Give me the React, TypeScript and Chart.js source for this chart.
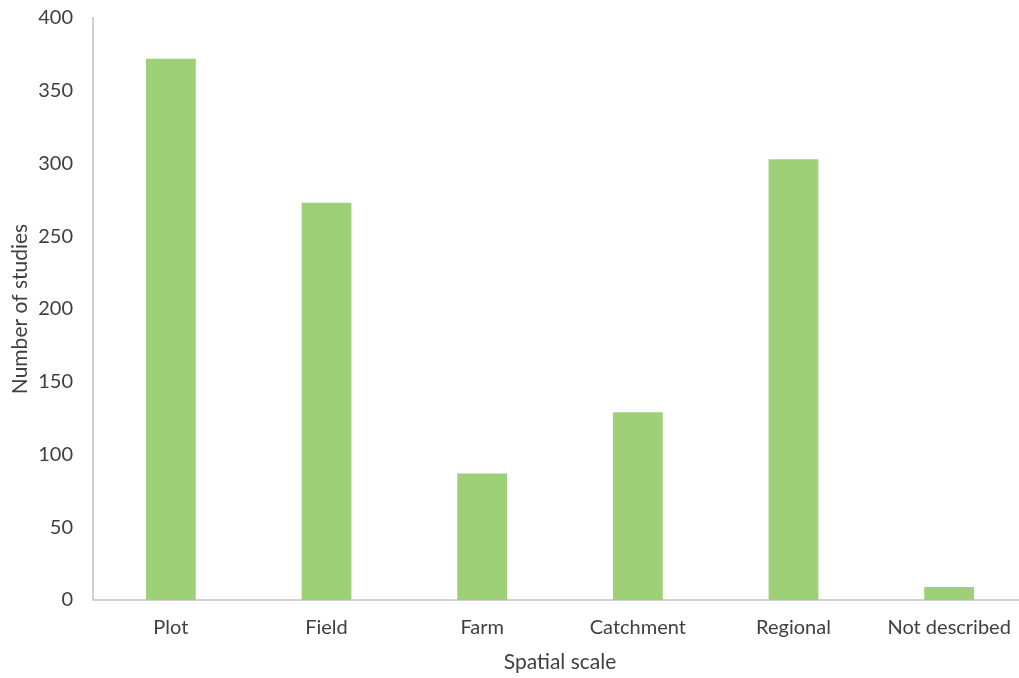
import React, { useEffect, useRef } from "react";
import { Chart, registerables } from "chart.js";

Chart.register(...registerables);

const categories = ["Plot", "Field", "Farm", "Catchment", "Regional", "Not described"];
const studies = [372, 273, 87, 129, 303, 9];
const yTicks = [0, 50, 100, 150, 200, 250, 300, 350, 400];

export default function App() {
  const ref = useRef<HTMLCanvasElement | null>(null);
  useEffect(() => {
    if (!ref.current) return;
    const font = "Lato, 'Open Sans', sans-serif";
    const chart = new Chart(ref.current, {
      type: "bar",
      data: {
        labels: categories,
        datasets: [
          {
            label: "Number of studies",
            data: studies,
            backgroundColor: "#9dd077",
            borderWidth: 0,
            barPercentage: 0.32,
            categoryPercentage: 1,
          },
        ],
      },
      options: {
        animation: false,
        responsive: false,
        maintainAspectRatio: false,
        layout: { padding: { top: 18, left: 0, right: 3, bottom: 0 } },
        plugins: { legend: { display: false }, tooltip: { enabled: false } },
        scales: {
          x: {
            grid: { display: false, drawTicks: false },
            border: { display: true, color: "#d0d0d0", width: 2 },
            ticks: { color: "#404040", font: { family: font, size: 20 }, padding: 16, maxRotation: 0 },
            title: {
              display: true,
              text: "Spatial scale",
              color: "#404040",
              font: { family: font, size: 21 },
              padding: { top: 0, bottom: 3 },
            },
            afterFit: (axis: any) => {
              axis.height = 78;
              axis.paddingLeft = 0;
              axis.paddingRight = 0;
            },
          },
          y: {
            min: 0,
            max: 400,
            afterBuildTicks: (axis: any) => {
              axis.ticks = yTicks.map((v) => ({ value: v }));
            },
            grid: { display: false, drawTicks: false },
            border: { display: true, color: "#d0d0d0", width: 2 },
            ticks: { color: "#404040", font: { family: font, size: 20 }, padding: 20 },
            title: {
              display: true,
              text: "Number of studies",
              color: "#404040",
              font: { family: font, size: 21 },
              padding: { top: 8, bottom: 5 },
            },
            afterFit: (axis: any) => {
              axis.width = 93;
              axis.paddingTop = 0;
              axis.paddingBottom = 0;
            },
          },
        },
      },
    });
    return () => chart.destroy();
  }, []);
  return (
    <div style={{ position: "absolute", left: 0, top: 0, width: 1019, height: 678, overflow: "hidden", background: "#fff" }}>
      <canvas ref={ref} width={1030} height={678} style={{ display: "block" }} />
    </div>
  );
}
